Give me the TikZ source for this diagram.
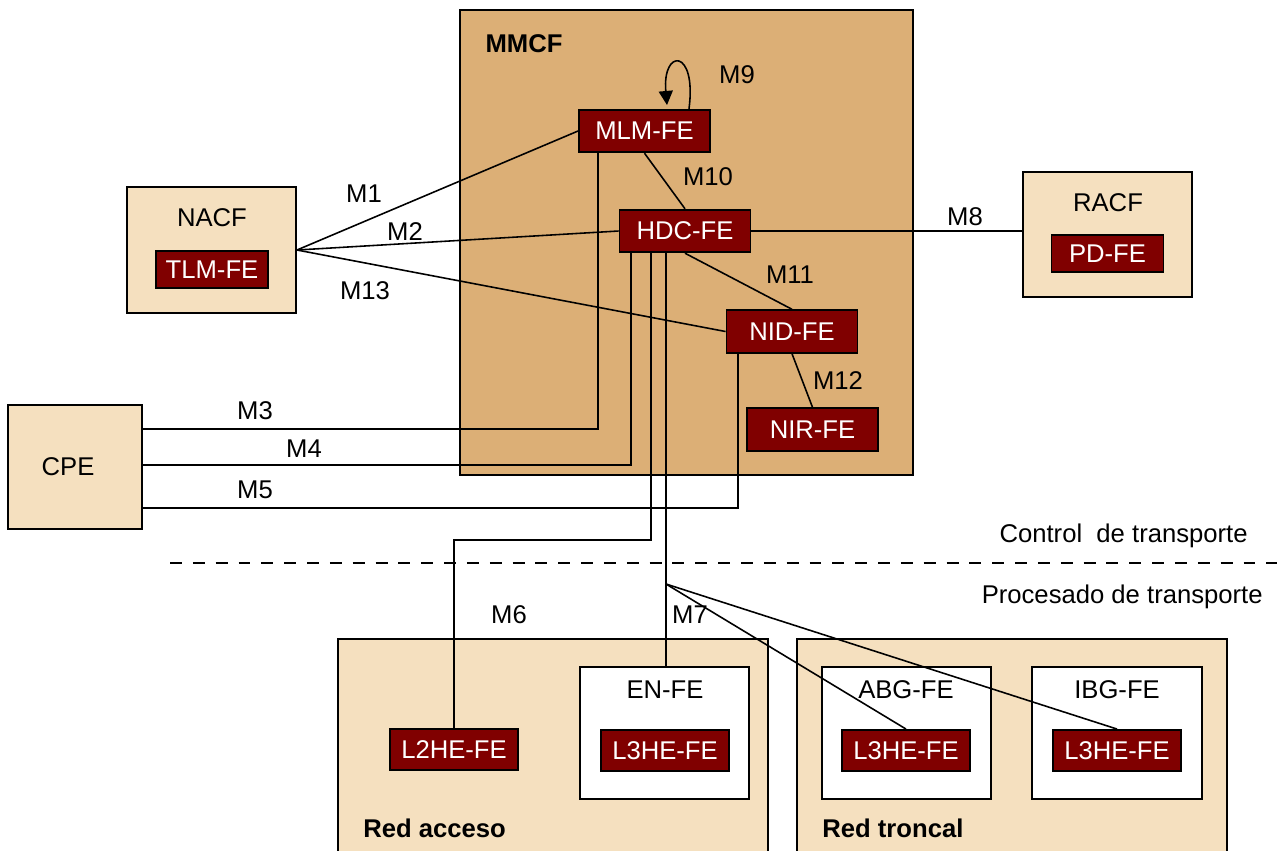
\documentclass[tikz,border=0pt]{standalone}
\usepackage{fontspec}
\setmainfont{Liberation Sans}
\usetikzlibrary{arrows.meta,positioning,calc}
\definecolor{mmcffill}{HTML}{DCAF76}
\definecolor{areafill}{HTML}{F5E0BF}
\definecolor{fered}{HTML}{800000}

\begin{document}
\begin{tikzpicture}[
        x=0.02cm, y=-0.02cm,
        every node/.style={font=\fontsize{14.6}{17}\selectfont},
        area/.style={draw=black, line width=1.1pt, fill=areafill, inner sep=0pt},
        febox/.style={draw=black, line width=1.1pt, fill=fered, text=white,
                inner sep=0pt, minimum width=2.62cm, minimum height=0.85cm},
        fesmall/.style={febox, minimum width=2.24cm, minimum height=0.74cm},
        femid/.style={febox, minimum width=2.56cm, minimum height=0.82cm},
        lab/.style={inner sep=0pt},
        boldlab/.style={inner sep=0pt, font=\fontsize{14.6}{17}\selectfont\bfseries},
        link/.style={draw=black, line width=0.9pt}
    ]

    \useasboundingbox (0,0) rectangle (1277,850);
    \clip (0,0) rectangle (1277,850);

    % =============== bloques de control ===============
    \node[area, fill=mmcffill, minimum width=9.06cm, minimum height=9.30cm] (mmcf) at (686.5,242.5) {};
    \node[boldlab] (mmcflab) at (524,44) {MMCF};

    \node[area, minimum width=3.38cm, minimum height=2.52cm] (nacf) at (211.5,250) {};
    \node[lab] (nacflab) at (212,218) {NACF};
    \node[fesmall] (tlm) at (212,269.5) {TLM-FE};

    \node[area, minimum width=3.38cm, minimum height=2.50cm] (racf) at (1107.5,234.5) {};
    \node[lab] (racflab) at (1108,203) {RACF};
    \node[fesmall] (pd) at (1107.5,253.5) {PD-FE};

    \node[area, minimum width=2.68cm, minimum height=2.48cm] (cpe) at (75,467) {};
    \node[lab] (cpelab) at (68,467) {CPE};

    % =============== redes de transporte ===============
    \node[area, minimum width=8.60cm, minimum height=4.62cm] (acceso) at (553,754.5) {};
    \node[boldlab, anchor=base west] (accesolab) at (363,837) {Red acceso};
    \node[area, minimum width=8.60cm, minimum height=4.62cm] (troncal) at (1012,754.5) {};
    \node[boldlab, anchor=base west] (troncallab) at (822,837) {Red troncal};

    \node[area, fill=white, minimum width=3.38cm, minimum height=2.64cm] (enfe) at (664.5,733) {};
    \node[lab] (enfelab) at (665,690) {EN-FE};
    \node[area, fill=white, minimum width=3.38cm, minimum height=2.64cm] (abgfe) at (906.5,733) {};
    \node[lab] (abgfelab) at (906,690) {ABG-FE};
    \node[area, fill=white, minimum width=3.40cm, minimum height=2.64cm] (ibgfe) at (1117,733) {};
    \node[lab] (ibgfelab) at (1117,690) {IBG-FE};

    % =============== entidades funcionales ===============
    \node[febox] (mlm) at (644.5,131) {MLM-FE};
    \node[febox] (hdc) at (685,231) {HDC-FE};
    \node[febox] (nid) at (792,331.5) {NID-FE};
    \node[febox] (nir) at (812.5,429.5) {NIR-FE};
    \node[femid] (ltwo) at (454,749.5) {L2HE-FE};
    \node[femid] (lthreeen) at (665,750.5) {L3HE-FE};
    \node[femid] (lthreeabg) at (906,750.5) {L3HE-FE};
    \node[femid] (lthreeibg) at (1117,750.5) {L3HE-FE};

    % =============== separacion control / procesado ===============
    \draw[black, line width=0.9pt, dash pattern=on 6.8pt off 6.2pt] (170,563) -- (1277,563);
    \node[lab, anchor=base east] (ctrllab) at (1248,542) {Control\ \ de transporte};
    \node[lab, anchor=base east] (proclab) at (1263,603) {Procesado de transporte};

    % =============== puntos de referencia ===============
    \draw[link] (nacf.east) -- (mlm.west);
    \draw[link] (nacf.east) -- (hdc.west);
    \draw[link] (nacf.east) -- (nid.west);
    \draw[link] (mlm.south -| 598,0) |- (cpe.east |- 0,429);
    \draw[link] (hdc.south -| 631,0) |- (cpe.east |- 0,465);
    \draw[link] (nid.south -| 738,0) |- (cpe.east |- 0,508);
    \draw[link] (hdc.south -| 651,0) -- (651,540) -| (ltwo.north);
    \draw[link] (hdc.south -| 666,0) -- (enfe.north -| 666,0);
    \coordinate (split) at (666,584);
    \draw[link] (split) -- (lthreeabg.north);
    \draw[link] (split) -- (lthreeibg.north);
    \draw[link] (hdc.east) -- (hdc.east -| racf.west);
    \draw[link] (mlm.south) -- (hdc.north);
    \draw[link] (hdc.south) -- (nid.north);
    \draw[link] (nid.south) -- (nir.north);
    \draw[link, -{Triangle[length=8pt,width=8pt]}]
    ($(mlm.north)+(44.5,0)$) .. controls (697,48) and (662,48) .. (667,105);

    \node[lab] (m1) at (364,194) {M1};
    \node[lab] (m2) at (405,232) {M2};
    \node[lab] (m3) at (255,411) {M3};
    \node[lab] (m4) at (304,449) {M4};
    \node[lab] (m5) at (255,490) {M5};
    \node[lab] (m6) at (509,615) {M6};
    \node[lab] (m7) at (690,615) {M7};
    \node[lab] (m8) at (965,217) {M8};
    \node[lab] (m9) at (737,75) {M9};
    \node[lab] (m10) at (708,177) {M10};
    \node[lab] (m11) at (790,275) {M11};
    \node[lab] (m12) at (838,381) {M12};
    \node[lab] (m13) at (365,291) {M13};

\end{tikzpicture}
\end{document}
